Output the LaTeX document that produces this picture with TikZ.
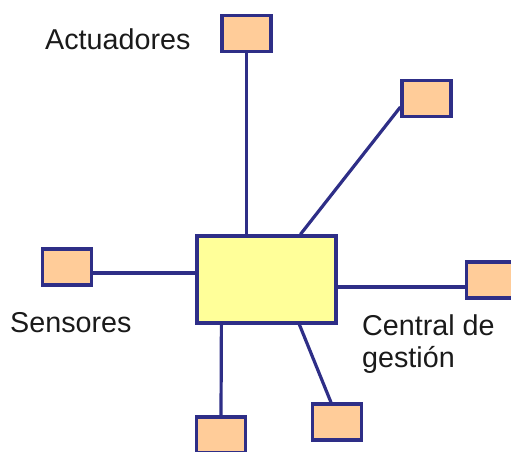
\documentclass[tikz,border=0pt]{standalone}
\usepackage{fontspec}
\setmainfont{Liberation Sans}
\definecolor{edgeblue}{HTML}{2E2E87}
\definecolor{peach}{HTML}{FFCC99}
\definecolor{paleyellow}{HTML}{FFFF99}
\definecolor{labeltext}{HTML}{1A1A1A}
\begin{document}
\begin{tikzpicture}[x=1pt,y=-1pt,
  unit/.style={draw=edgeblue, line width=3.2pt, fill=peach, inner sep=0pt,
    minimum width=49pt, minimum height=36pt},
  hub/.style={draw=edgeblue, line width=3.2pt, fill=paleyellow, inner sep=0pt,
    minimum width=139pt, minimum height=87pt},
  link/.style={draw=edgeblue, line width=3.2pt},
  caption/.style={text=labeltext, inner sep=0pt, font=\fontsize{28.7}{32}\selectfont}]
  \useasboundingbox (0,0) rectangle (511,452);
  \clip (0,0) rectangle (511,452);

  % central management unit
  \node[hub] (c) at (266.5,279.5) {};

  % peripheral units
  \node[unit] (tp) at (246.5,33.5) {};
  \node[unit] (ur) at (426.5,98.5) {};
  \node[unit] (s)  at (67,267) {};
  \node[unit] (r)  at (491,280) {};
  \node[unit] (bl) at (221,435) {};
  \node[unit] (br) at (337,422) {};

  % wiring to the hub
  \draw[link] (tp.south) -- (tp.south |- c.north);
  \draw[link] ([xshift=105pt]c.north west) -- ([yshift=-8.5pt]ur.west);
  \draw[link] ([yshift=-6pt]s.east) -- ([yshift=-6pt]s.east -| c.west);
  \draw[link] ([yshift=-7pt]r.west) -- ([yshift=-7pt]r.west -| c.east);
  \draw[link] ([xshift=26pt]c.south west) -- (bl.north);
  \draw[link] ([xshift=104pt]c.south west) -- ([xshift=-6pt]br.north);

  % labels
  \node[caption, anchor=base west] (la) at (45,50) {Actuadores};
  \node[caption, anchor=base west] (ls) at (10,332) {Sensores};
  \node[caption, anchor=base west, align=left] (lc) at (362,367) {Central de\\gestión};
\end{tikzpicture}
\end{document}
